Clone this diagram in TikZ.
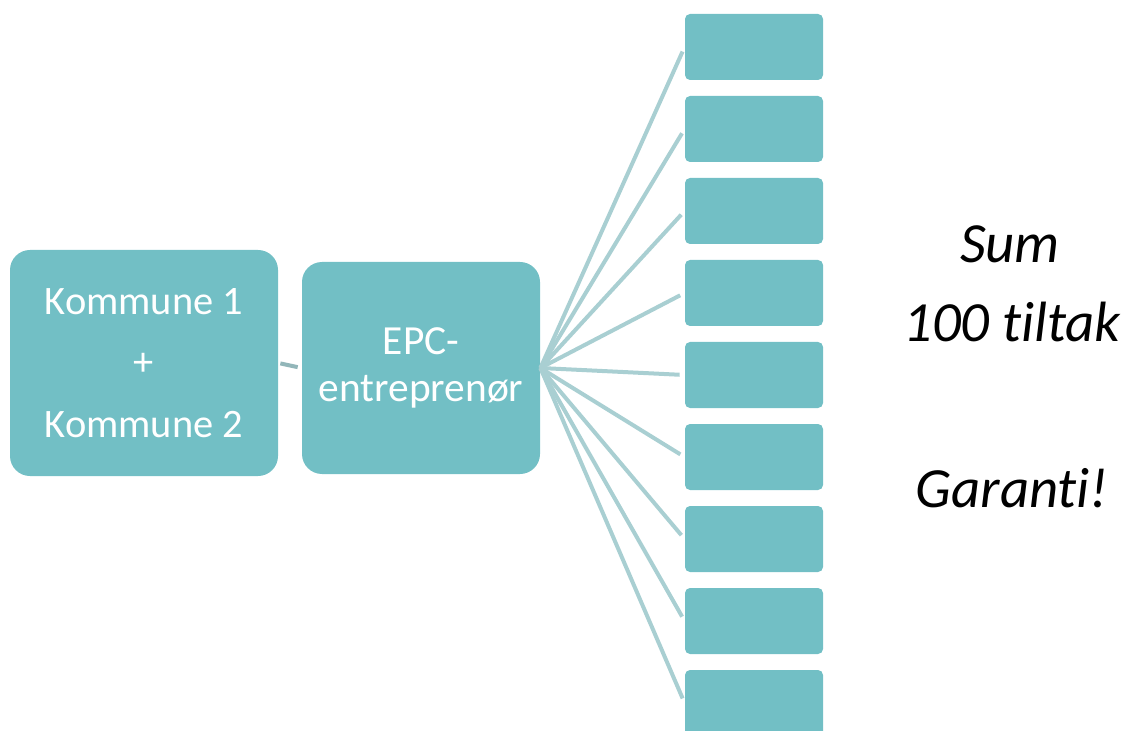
\documentclass[tikz,border=0pt]{standalone}
\usepackage{fontspec}
\setmainfont{Carlito}[Ligatures=NoCommon]
\definecolor{boks}{HTML}{72BFC5}
\definecolor{linje}{HTML}{A9CFD2}
\definecolor{kobling}{HTML}{92B6B9}
\begin{document}
\begin{tikzpicture}[x=0.5pt, y=-0.5pt,
	stor/.style={fill=boks, rounded corners=10pt, text=white, align=center, font=\fontsize{20.2}{30.75}\selectfont},
	tiltak/.style={fill=boks, rounded corners=2.5pt, minimum width=69pt, minimum height=33pt},
	fan/.style={linje, line width=2pt, shorten >=2.5pt},
	stort/.style={anchor=base, font=\fontsize{28.4}{34}\selectfont\itshape}]
	\useasboundingbox (0,0) rectangle (1127,731);
	\node[stor, minimum width=134pt, minimum height=113pt] (kommune) at (144,363) {Kommune 1\\+\\Kommune 2};
	\node[stor, minimum width=119pt, minimum height=106pt, font=\fontsize{20.7}{23.5}\selectfont] (epc) at (421,368) {EPC-\\entreprenør};
	\draw[kobling, line width=2pt, shorten <=1pt, shorten >=2pt] (kommune.east) -- (epc.west);
	\foreach \i in {1,...,9} {
		\node[tiltak] (t\i) at (754,{47+82*(\i-1)}) {};
		\draw[fan] (epc.east) -- (t\i.west);
	}
	\node[stort] (sum) at (1010,263) {Sum};
	\node[stort] (antall) at (1012,342) {100 tiltak};
	\node[stort] (garanti) at (1012,507) {Garanti!};
\end{tikzpicture}
\end{document}
